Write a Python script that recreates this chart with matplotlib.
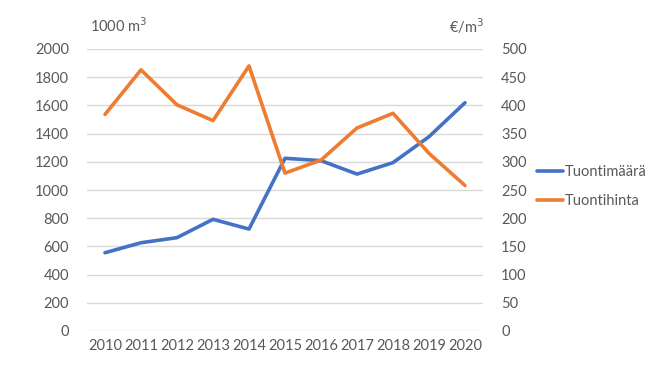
import matplotlib
matplotlib.use("Agg")
import matplotlib.pyplot as plt

years = [2010, 2011, 2012, 2013, 2014, 2015, 2016, 2017, 2018, 2019, 2020]
tuontimaara = [555, 626, 662, 792, 723, 1225, 1208, 1113, 1194, 1378, 1619]
tuontihinta = [384, 463, 401, 373, 470, 280, 303, 360, 386, 315, 258]
left_ticks = [0, 200, 400, 600, 800, 1000, 1200, 1400, 1600, 1800, 2000]
right_ticks = [0, 50, 100, 150, 200, 250, 300, 350, 400, 450, 500]

plt.rcParams['font.family'] = ['Lato', 'DejaVu Sans']
W, H = 671, 371
fig = plt.figure(figsize=(W / 100, H / 100), dpi=100)
ax = fig.add_axes([87 / W, 1 - 331 / H, (483 - 87) / W, (331 - 49) / H])
ax2 = ax.twinx()

blue = '#4472C4'
orange = '#ED7D31'
grid = '#D9D9D9'
tc = '#595959'

l1, = ax.plot(years, tuontimaara, color=blue, lw=2.6, solid_capstyle='round', solid_joinstyle='round', zorder=3)
l2, = ax2.plot(years, tuontihinta, color=orange, lw=2.6, solid_capstyle='round', solid_joinstyle='round', zorder=3)

ax.set_xlim(2009.5, 2020.5)
ax.set_ylim(0, 2000)
ax2.set_ylim(0, 500)
ax.set_yticks(left_ticks)
ax2.set_yticks(right_ticks)
ax.set_xticks(years)
ax.set_xticklabels([str(y) for y in years])

for a in (ax, ax2):
    for s in a.spines.values():
        s.set_visible(False)
    a.tick_params(length=0, labelsize=10.5, colors=tc)
ax.tick_params(axis='y', pad=13)
ax2.tick_params(axis='y', pad=13)
ax.tick_params(axis='x', pad=6)
ax.yaxis.grid(True, color=grid, lw=1.0)
ax.set_axisbelow(True)

fig.text(90 / W, 1 - 26 / H, '1000 m$^3$', fontsize=10.5, color=tc, va='center', ha='left')
fig.text(484 / W, 1 - 26 / H, '€/m$^3$', fontsize=10.5, color=tc, va='center', ha='right')

fig.legend([l1, l2], ['Tuontimäärä', 'Tuontihinta'], loc='upper left',
           bbox_to_anchor=(524 / W, 1 - 152 / H), frameon=False, fontsize=10.5,
           handlelength=1.8, handletextpad=0.1, labelspacing=1.0, labelcolor=tc)

fig.savefig('out.png', dpi=100)
